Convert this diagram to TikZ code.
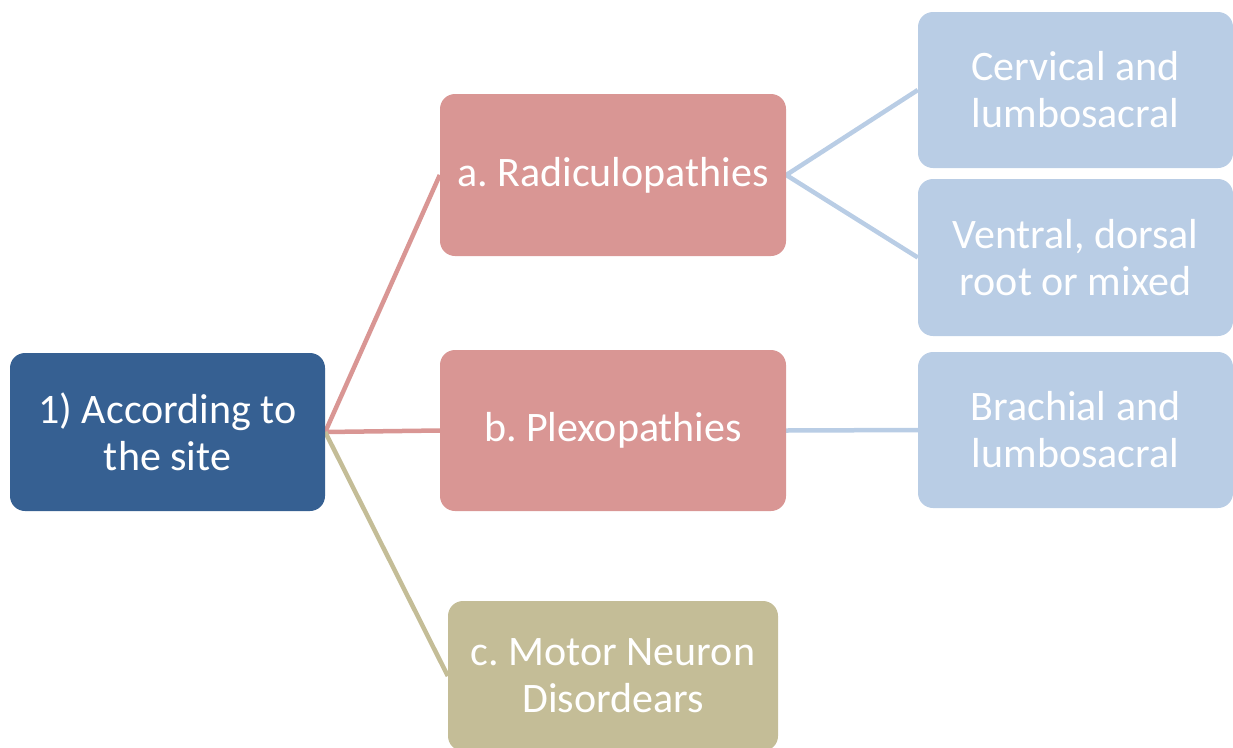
\documentclass[tikz,border=0pt]{standalone}
\usepackage{fontspec}
\setmainfont{Carlito}
\frenchspacing
\usetikzlibrary{positioning,backgrounds}
\definecolor{siteblue}{HTML}{366092}
\definecolor{rootpink}{HTML}{D99694}
\definecolor{motorkhaki}{HTML}{C4BD97}
\definecolor{leafblue}{HTML}{B9CDE5}
\tikzset{
  box/.style={rounded corners=15pt,text=white,align=center,inner sep=0pt,
    font=\fontsize{42}{47}\selectfont},
  link/.style={line width=4.5pt}
}
\begin{document}
\begin{tikzpicture}[x=1pt,y=-1pt]
\useasboundingbox (0,0) rectangle (1233,747);
\node[box,fill=siteblue,minimum width=315pt,minimum height=158pt] (site) at (167.5,432) {1) According to\\the site};
\node[box,fill=rootpink,minimum width=346pt,minimum height=162pt] (radic) at (613,175) {a. Radiculopathies};
\node[box,fill=rootpink,minimum width=346pt,minimum height=161pt] (plexo) at (613,430.5) {b. Plexopathies};
\node[box,fill=motorkhaki,minimum width=330pt,minimum height=150pt] (motor) at (613,676) {c. Motor Neuron\\Disordears};
\node[box,fill=leafblue,minimum width=315pt,minimum height=156pt] (cervi) at (1075.5,90) {Cervical and\\lumbosacral};
\node[box,fill=leafblue,minimum width=315pt,minimum height=157pt] (ventr) at (1075.5,257.5) {Ventral, dorsal\\root or mixed};
\node[box,fill=leafblue,minimum width=315pt,minimum height=156pt] (brach) at (1075.5,430) {Brachial and\\lumbosacral};
\begin{scope}[on background layer]
\draw[link,rootpink] (site.east) -- (radic.west);
\draw[link,rootpink] (site.east) -- (plexo.west);
\draw[link,motorkhaki] (site.east) -- (motor.west);
\draw[link,leafblue] (radic.east) -- (cervi.west);
\draw[link,leafblue] (radic.east) -- (ventr.west);
\draw[link,leafblue] (plexo.east) -- (brach.west);
\end{scope}
\end{tikzpicture}
\end{document}
